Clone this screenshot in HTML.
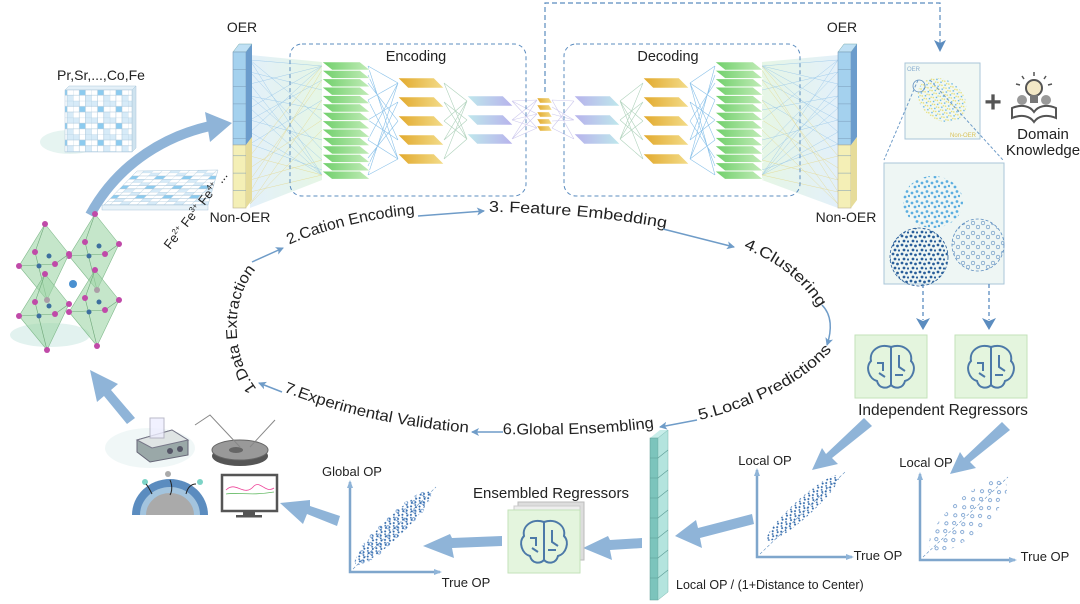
<!DOCTYPE html>
<html><head><meta charset="utf-8"><style>
html,body{margin:0;padding:0;background:#fff;}
svg{display:block;font-family:"Liberation Sans",sans-serif;}
</style></head><body>
<svg width="1080" height="604" viewBox="0 0 1080 604" xmlns="http://www.w3.org/2000/svg">
<defs>
<linearGradient id="gg" x1="0" x2="1"><stop offset="0" stop-color="#6fcf6a"/><stop offset="1" stop-color="#c2ecb8"/></linearGradient>
<linearGradient id="yg" x1="0" x2="1"><stop offset="0" stop-color="#e2a92c"/><stop offset="1" stop-color="#f3dc8a"/></linearGradient>
<linearGradient id="pg" x1="0" x2="1"><stop offset="0" stop-color="#bfe8ec"/><stop offset="1" stop-color="#b7b2ec"/></linearGradient>
<linearGradient id="pg2" x1="0" x2="1"><stop offset="0" stop-color="#b7b2ec"/><stop offset="1" stop-color="#bfe8ec"/></linearGradient>
<linearGradient id="fanL" x1="0" x2="1"><stop offset="0" stop-color="#8ec3ea"/><stop offset="1" stop-color="#9bdc98"/></linearGradient>
<linearGradient id="fanR" x1="0" x2="1"><stop offset="0" stop-color="#9bdc98"/><stop offset="1" stop-color="#8ec3ea"/></linearGradient>
<marker id="ah" markerWidth="8" markerHeight="8" refX="7" refY="4" orient="auto" markerUnits="userSpaceOnUse"><path d="M0,0 L8,4 L0,8 L2,4 Z" fill="#6f9cc8"/></marker>
<marker id="ahd" markerWidth="12" markerHeight="12" refX="10" refY="6" orient="auto" markerUnits="userSpaceOnUse"><path d="M0,0 L12,6 L0,12 L3,6 Z" fill="#5b8cbf"/></marker>
<marker id="ax" markerWidth="8" markerHeight="8" refX="6" refY="4" orient="auto-start-reverse" markerUnits="userSpaceOnUse"><path d="M0,1 L8,4 L0,7 Z" fill="#8fb4d8"/></marker>
<path id="pA" d="M262,395 C238,370 232,330 240,300 C250,265 275,250 300,240 C360,218 420,210 500,212 C580,214 650,222 720,240 C770,255 810,280 830,330"/>
<path id="pB" d="M280,390 C340,415 420,432 500,434 C580,436 640,432 700,420 C760,405 810,380 840,340"/>
<path id="gL" d="M0,0 L38,0 L48,8 L10,8Z" fill="url(#gg)" stroke="#fff" stroke-width=".6"/>
<path id="yL" d="M0,0 L36,0 L46,10 L10,10Z" fill="url(#yg)" stroke="#fff" stroke-width=".6"/>
<path id="pL" d="M0,0 L36,0 L46,10 L10,10Z" fill="url(#pg)" stroke="#fff" stroke-width=".6"/>
<path id="pL2" d="M0,0 L36,0 L46,10 L10,10Z" fill="url(#pg2)" stroke="#fff" stroke-width=".6"/>
<path id="cL" d="M0,0 L12,0 L15,5 L3,5Z" fill="url(#yg)" stroke="#fff" stroke-width=".4"/>
<g id="brain"><rect x="0" y="0" width="72" height="63" fill="#e4f5de" stroke="#c3e2b9"/>
<path d="M36,12 C24,8 14,16 16,26 C10,32 14,44 22,46 C24,54 32,54 36,50 C40,54 48,54 50,46 C58,44 62,32 56,26 C58,16 48,8 36,12 Z M36,12 L36,50 M22,28 L28,28 L28,36 M24,38 L30,42 M44,20 L44,32 L50,36 M40,40 L48,40" fill="none" stroke="#4c79a8" stroke-width="2"/></g>
<g id="oct">
<path d="M2,-38 L26,-8 L4,38 L-24,4Z" fill="#9fd6a6" fill-opacity=".6" stroke="#7fb98a" stroke-width=".6"/>
<path d="M2,-38 L-8,-10 L4,38 M-24,4 L12,2 L26,-8" fill="none" stroke="#6fa87a" stroke-width=".6"/>
<g fill="#c04aa8"><circle cx="2" cy="-38" r="3"/><circle cx="26" cy="-8" r="3"/><circle cx="4" cy="38" r="3"/><circle cx="-24" cy="4" r="3"/><circle cx="-8" cy="-10" r="3"/><circle cx="12" cy="2" r="3"/></g>
<circle cx="-4" cy="4" r="2.5" fill="#3d6f9e"/><circle cx="6" cy="-6" r="2.5" fill="#3d6f9e"/>
</g>
<pattern id="dLB" width="10" height="10" patternUnits="userSpaceOnUse"><circle cx="2" cy="3" r="1.4" fill="#5aaee0"/><circle cx="7" cy="1.5" r="1.4" fill="#5aaee0"/><circle cx="5" cy="7" r="1.4" fill="#5aaee0"/><circle cx="9" cy="6" r="1.2" fill="#5aaee0"/></pattern>
<pattern id="dDB" width="9" height="9" patternUnits="userSpaceOnUse"><circle cx="2" cy="2" r="1.4" fill="#2a5f9a"/><circle cx="6.5" cy="3" r="1.4" fill="#2a5f9a"/><circle cx="4" cy="7" r="1.4" fill="#2a5f9a"/><circle cx="8" cy="7.5" r="1.1" fill="#2a5f9a"/></pattern>
<pattern id="dH" width="10" height="10" patternUnits="userSpaceOnUse"><circle cx="3" cy="3" r="1.8" fill="none" stroke="#5b8cbf" stroke-width=".6"/><circle cx="8" cy="7" r="1.8" fill="none" stroke="#5b8cbf" stroke-width=".6"/></pattern>
<pattern id="dIn" width="5" height="5" patternUnits="userSpaceOnUse"><circle cx="1" cy="1" r=".8" fill="#5aaee0"/><circle cx="3.5" cy="3" r=".8" fill="#e5dc6a"/><circle cx="1.5" cy="4" r=".7" fill="#e5dc6a"/></pattern>
<pattern id="dS" width="6" height="6" patternUnits="userSpaceOnUse"><circle cx="1" cy="1" r="1" fill="#2a64a8"/><circle cx="4" cy="3" r="1" fill="#2a64a8"/><circle cx="2" cy="5" r=".9" fill="#2a64a8"/></pattern>
<pattern id="dSH" width="12" height="12" patternUnits="userSpaceOnUse"><circle cx="3" cy="3" r="1.6" fill="none" stroke="#4a80c0" stroke-width=".6"/><circle cx="9" cy="8" r="1.6" fill="none" stroke="#4a80c0" stroke-width=".6"/></pattern>
<pattern id="grid1" width="18.3" height="16.8" patternUnits="userSpaceOnUse">
<rect width="18.3" height="16.8" fill="#fff"/>
<rect x="0" y="0" width="6.1" height="5.6" fill="#d7ebf8"/><rect x="6.1" y="5.6" width="6.1" height="5.6" fill="#8ccbef"/><rect x="12.2" y="11.2" width="6.1" height="5.6" fill="#d7ebf8"/><rect x="12.2" y="0" width="6.1" height="5.6" fill="#d7ebf8"/>
<path d="M0,0 H18.3 M0,5.6 H18.3 M0,11.2 H18.3 M0,0 V16.8 M6.1,0 V16.8 M12.2,0 V16.8" stroke="#a9c6da" stroke-width=".5"/></pattern>
<pattern id="grid2" width="27" height="9.6" patternUnits="userSpaceOnUse" patternTransform="skewX(-45)">
<rect width="27" height="9.6" fill="#fff"/>
<rect x="0" y="0" width="9" height="3.2" fill="#d7ebf8"/><rect x="9" y="3.2" width="9" height="3.2" fill="#8ccbef"/><rect x="18" y="6.4" width="9" height="3.2" fill="#d7ebf8"/>
<path d="M0,0 H27 M0,3.2 H27 M0,6.4 H27 M0,0 V9.6 M9,0 V9.6 M18,0 V9.6" stroke="#a9c6da" stroke-width=".5"/></pattern>
</defs>

<!-- fans -->
<path d="M250,55 L322,62 L322,180 L250,208Z" fill="url(#fanL)" opacity=".25"/>
<path d="M838,55 L762,62 L762,180 L838,208Z" fill="url(#fanR)" opacity=".25"/>
<g stroke-width=".45" opacity=".7" fill="none">
<path stroke="#7fb8e6" d="M250,60L322,66M250,60L322,120M250,60L322,175M250,72L322,90M250,72L322,150M250,84L322,66M250,84L322,175M250,96L322,110M250,96L322,160M250,108L322,66M250,108L322,175M250,120L322,80M250,120L322,140M250,132L322,66M250,132L322,175M250,144L322,100M250,144L322,170"/>
<path stroke="#e3cf70" d="M250,156L322,66M250,156L322,175M250,168L322,120M250,180L322,80M250,180L322,160M250,192L322,70M250,192L322,175M250,204L322,130M250,204L322,100"/>
<path stroke="#7fb8e6" d="M838,60L762,66M838,60L762,120M838,60L762,175M838,72L762,90M838,72L762,150M838,84L762,66M838,84L762,175M838,96L762,110M838,96L762,160M838,108L762,66M838,108L762,175M838,120L762,80M838,120L762,140M838,132L762,66M838,132L762,175M838,144L762,100M838,144L762,170"/>
<path stroke="#e3cf70" d="M838,156L762,66M838,156L762,175M838,168L762,120M838,180L762,80M838,180L762,160M838,192L762,70M838,192L762,175M838,204L762,130M838,204L762,100"/>
<path stroke="#5aa8e0" stroke-width=".6" d="M368,66L398,83M368,66L398,159M368,83L398,121M368,100L398,83M368,100L398,159M368,120L398,102M368,120L398,140M368,140L398,83M368,140L398,159M368,158L398,121M368,175L398,83M368,175L398,159M368,75L398,140M368,166L398,102"/>
<path stroke="#5aa8e0" stroke-width=".6" d="M715,66L690,83M715,66L690,159M715,83L690,121M715,100L690,83M715,100L690,159M715,120L690,102M715,120L690,140M715,140L690,83M715,140L690,159M715,158L690,121M715,175L690,83M715,175L690,159M715,75L690,140M715,166L690,102"/>
<path stroke="#8fc0a0" stroke-width=".6" d="M444,83L467,101M444,83L467,139M444,102L467,120M444,121L467,101M444,121L467,139M444,140L467,120M444,159L467,101M444,159L467,139M444,102L467,139M444,140L467,101"/>
<path stroke="#8fc0a0" stroke-width=".6" d="M643,83L620,101M643,83L620,139M643,102L620,120M643,121L620,101M643,121L620,139M643,140L620,120M643,159L620,101M643,159L620,139M643,102L620,139M643,140L620,101"/>
<path stroke="#b8b2e6" stroke-width=".6" d="M512,101L537,100M512,101L537,128M512,120L537,114M512,139L537,100M512,139L537,128M512,101L537,114M512,139L537,114M512,120L537,100M512,120L537,128"/>
<path stroke="#b8b2e6" stroke-width=".6" d="M552,100L574,101M552,128L574,101M552,114L574,120M552,100L574,139M552,128L574,139M552,107L574,120M552,121L574,120"/>
</g>

<!-- dashed top connector -->
<path d="M545,92 L545,3 L940,3 L940,50" fill="none" stroke="#5b8cbf" stroke-width="1.2" stroke-dasharray="5,3" marker-end="url(#ahd)"/>

<rect x="290" y="44" width="236" height="152" rx="12" fill="none" stroke="#5b8cbf" stroke-dasharray="4,3"/>
<rect x="564" y="44" width="236" height="152" rx="12" fill="none" stroke="#5b8cbf" stroke-dasharray="4,3"/>
<text x="416" y="61" font-size="14.5" text-anchor="middle" fill="#222">Encoding</text>
<text x="668" y="61" font-size="14.5" text-anchor="middle" fill="#222">Decoding</text>

<!-- layers -->
<g>
<use href="#gL" x="322" y="62"/><use href="#gL" x="322" y="70.4"/><use href="#gL" x="322" y="78.8"/><use href="#gL" x="322" y="87.2"/><use href="#gL" x="322" y="95.6"/><use href="#gL" x="322" y="104"/><use href="#gL" x="322" y="112.4"/><use href="#gL" x="322" y="120.8"/><use href="#gL" x="322" y="129.2"/><use href="#gL" x="322" y="137.6"/><use href="#gL" x="322" y="146"/><use href="#gL" x="322" y="154.4"/><use href="#gL" x="322" y="162.8"/><use href="#gL" x="322" y="171.2"/>
<use href="#gL" x="715" y="62"/><use href="#gL" x="715" y="70.4"/><use href="#gL" x="715" y="78.8"/><use href="#gL" x="715" y="87.2"/><use href="#gL" x="715" y="95.6"/><use href="#gL" x="715" y="104"/><use href="#gL" x="715" y="112.4"/><use href="#gL" x="715" y="120.8"/><use href="#gL" x="715" y="129.2"/><use href="#gL" x="715" y="137.6"/><use href="#gL" x="715" y="146"/><use href="#gL" x="715" y="154.4"/><use href="#gL" x="715" y="162.8"/><use href="#gL" x="715" y="171.2"/>
<use href="#yL" x="398" y="78"/><use href="#yL" x="398" y="97"/><use href="#yL" x="398" y="116"/><use href="#yL" x="398" y="135"/><use href="#yL" x="398" y="154"/>
<use href="#yL" x="643" y="78"/><use href="#yL" x="643" y="97"/><use href="#yL" x="643" y="116"/><use href="#yL" x="643" y="135"/><use href="#yL" x="643" y="154"/>
<use href="#pL" x="467" y="96"/><use href="#pL" x="467" y="115"/><use href="#pL" x="467" y="134"/>
<use href="#pL2" x="574" y="96"/><use href="#pL2" x="574" y="115"/><use href="#pL2" x="574" y="134"/>
<use href="#cL" x="537" y="98"/><use href="#cL" x="537" y="105"/><use href="#cL" x="537" y="112"/><use href="#cL" x="537" y="119"/><use href="#cL" x="537" y="126"/>
</g>

<!-- columns -->
<g>
<path d="M233,52 L246,52 L252,44 L239,44Z" fill="#bfe0f4" stroke="#7aa" stroke-width=".5"/>
<rect x="233" y="52" width="13" height="93" fill="#a4d1ee" stroke="#7a9ab8" stroke-width=".6"/>
<rect x="233" y="145" width="13" height="63" fill="#f4efb6" stroke="#b8b090" stroke-width=".6"/>
<path d="M246,52 L252,44 L252,137 L246,145Z" fill="#6b9ccc"/>
<path d="M246,145 L252,137 L252,200 L246,208Z" fill="#e6dc9a"/>
<path d="M233,69.3H246M233,86.6H246M233,103.9H246M233,121.2H246M233,138.5H246M233,155.8H246M233,173.1H246M233,190.4H246" stroke="#7a9ab8" stroke-width=".5"/>
<path d="M838,52 L851,52 L857,44 L844,44Z" fill="#bfe0f4" stroke="#7aa" stroke-width=".5"/>
<rect x="838" y="52" width="13" height="93" fill="#a4d1ee" stroke="#7a9ab8" stroke-width=".6"/>
<rect x="838" y="145" width="13" height="63" fill="#f4efb6" stroke="#b8b090" stroke-width=".6"/>
<path d="M851,52 L857,44 L857,137 L851,145Z" fill="#6b9ccc"/>
<path d="M851,145 L857,137 L857,200 L851,208Z" fill="#e6dc9a"/>
<path d="M838,69.3H851M838,86.6H851M838,103.9H851M838,121.2H851M838,138.5H851M838,155.8H851M838,173.1H851M838,190.4H851" stroke="#7a9ab8" stroke-width=".5"/>
</g>
<text x="242" y="32" font-size="14" text-anchor="middle" fill="#222">OER</text>
<text x="240" y="222" font-size="14" text-anchor="middle" fill="#222">Non-OER</text>
<text x="842" y="32" font-size="14" text-anchor="middle" fill="#222">OER</text>
<text x="846" y="222" font-size="14" text-anchor="middle" fill="#222">Non-OER</text>

<!-- grids -->
<text x="101" y="80" font-size="14" text-anchor="middle" fill="#222">Pr,Sr,...,Co,Fe</text>
<ellipse cx="70" cy="142" rx="30" ry="12" fill="#d6ece8" opacity=".6"/>
<path d="M132,90 L136,86 L136,148 L132,152Z" fill="#cfe3ef" stroke="#a9c6da" stroke-width=".5"/>
<path d="M65,90 L69,86 L136,86 L132,90Z" fill="#e4f0f8" stroke="#a9c6da" stroke-width=".5"/>
<rect x="65" y="90" width="67" height="62" fill="url(#grid1)" stroke="#a9c6da" stroke-width=".5"/>
<path d="M102,207 L137,171 L218,170 L208,205Z" fill="url(#grid2)" stroke="#a9c6da" stroke-width=".5"/>
<rect x="102" y="205" width="106" height="5" fill="#e8f2f8" stroke="#a9c6da" stroke-width=".5"/>
<text transform="translate(170,250) rotate(-52)" font-size="13" fill="#222">Fe<tspan font-size="8" dy="-5">2+</tspan><tspan dy="5"> Fe</tspan><tspan font-size="8" dy="-5">3+</tspan><tspan dy="5"> Fe</tspan><tspan font-size="8" dy="-5">4+</tspan><tspan dy="5"> ...</tspan></text>
<path d="M90,215 C120,160 170,135 210,126" fill="none" stroke="#8fb4d8" stroke-width="10"/>
<path d="M205,112 L232,123 L210,142 Z" fill="#8fb4d8"/>

<!-- crystal -->
<ellipse cx="50" cy="335" rx="40" ry="12" fill="#d6ece8" opacity=".7"/>
<use href="#oct" x="93" y="252"/><use href="#oct" x="43" y="262"/><use href="#oct" x="93" y="308"/><use href="#oct" x="43" y="312"/>
<circle cx="73" cy="284" r="4" fill="#4a90d0"/>

<!-- cycle text -->
<g font-size="15.5" fill="#222">
<text><textPath href="#pA" startOffset="8" textLength="128" lengthAdjust="spacingAndGlyphs">1.Data Extraction</textPath></text>
<text><textPath href="#pA" startOffset="178" textLength="130" lengthAdjust="spacingAndGlyphs">2.Cation Encoding</textPath></text>
<text><textPath href="#pA" startOffset="382" textLength="178" lengthAdjust="spacingAndGlyphs">3. Feature Embedding</textPath></text>
<text><textPath href="#pA" startOffset="640" textLength="98" lengthAdjust="spacingAndGlyphs">4.Clustering</textPath></text>
<text><textPath href="#pB" startOffset="4" textLength="190" lengthAdjust="spacingAndGlyphs">7.Experimental Validation</textPath></text>
<text><textPath href="#pB" startOffset="228" textLength="152" lengthAdjust="spacingAndGlyphs">6.Global Ensembling</textPath></text>
<text><textPath href="#pB" startOffset="426" textLength="152" lengthAdjust="spacingAndGlyphs">5.Local Predictions</textPath></text>
</g>
<g stroke="#6f9cc8" stroke-width="1.5" fill="none" marker-end="url(#ah)">
<path d="M252,262 L283,248"/>
<path d="M418,216 L484,211"/>
<path d="M663,229 L734,247"/>
<path d="M822,305 C832,315 832,330 827,345"/>
<path d="M697,420 L660,427"/>
<path d="M503,432 L472,432"/>
<path d="M282,392 L259,383"/>
</g>

<!-- right top -->
<rect x="905" y="63" width="75" height="76" fill="#f1f8f4" stroke="#a9c6d8"/>
<ellipse cx="942" cy="100" rx="26" ry="20" fill="url(#dIn)" transform="rotate(35 942 100)"/>
<text x="907" y="71" font-size="6" fill="#8aaed0">OER</text>
<text x="950" y="137" font-size="6" fill="#d9c25a">Non-OER</text>
<circle cx="919" cy="86" r="6" fill="none" stroke="#5b8cbf" stroke-width=".8"/>
<line x1="918" y1="80" x2="884" y2="160" stroke="#6f9cc8" stroke-dasharray="3,2"/>
<line x1="930" y1="80" x2="1003" y2="160" stroke="#6f9cc8" stroke-dasharray="3,2"/>
<text x="993" y="112" font-size="30" font-weight="bold" text-anchor="middle" fill="#555">+</text>
<g transform="translate(1010,70)">
<path d="M2,38 C12,34 20,36 24,42 C28,36 36,34 46,38 L46,48 C36,44 28,46 24,52 C20,46 12,44 2,48 Z" fill="#fff" stroke="#555" stroke-width="2"/>
<circle cx="24" cy="18" r="8" fill="#f3e8c6" stroke="#555" stroke-width="2"/>
<rect x="20" y="25" width="8" height="8" fill="#777"/>
<circle cx="12" cy="30" r="5" fill="#999"/><circle cx="36" cy="30" r="5" fill="#999"/>
<path d="M24,2 L24,6 M12,6 L14,9 M36,6 L34,9 M6,14 L10,15 M42,14 L38,15" stroke="#555" stroke-width="1.5"/>
</g>
<text x="1043" y="139" font-size="15" text-anchor="middle" fill="#222">Domain</text>
<text x="1043" y="155" font-size="15" text-anchor="middle" fill="#222">Knowledge</text>

<rect x="884" y="163" width="120" height="121" fill="#eef6f4" stroke="#a9c6d8"/>
<ellipse cx="933" cy="202" rx="30" ry="26" fill="url(#dLB)"/>
<circle cx="919" cy="257" r="29" fill="url(#dDB)"/>
<circle cx="919" cy="257" r="29" fill="none" stroke="#2a5f9a" stroke-dasharray="3,2" stroke-width=".8"/>
<circle cx="978" cy="245" r="26" fill="url(#dH)"/>
<circle cx="978" cy="245" r="26" fill="none" stroke="#5b8cbf" stroke-dasharray="3,2" stroke-width=".8"/>
<g stroke="#5b8cbf" stroke-width="1.3" fill="none" stroke-dasharray="4,3">
<line x1="923" y1="284" x2="923" y2="320"/><line x1="989" y1="284" x2="989" y2="320"/></g>
<path d="M916,318 L923,330 L930,318 L923,321Z M982,318 L989,330 L996,318 L989,321Z" fill="#5b8cbf"/>

<use href="#brain" x="855" y="335"/>
<use href="#brain" x="955" y="335"/>
<text x="943" y="415" font-size="15.5" text-anchor="middle" fill="#222">Independent Regressors</text>

<g fill="#8fb4d8">
<path d="M864,418 L872,426 L832,458 L838,464 L812,470 L822,448 L826,454 Z"/>
<path d="M1002,422 L1010,430 L970,462 L976,468 L950,474 L960,452 L964,458 Z"/>
<path d="M752,514 L754,524 L700,538 L702,548 L675,536 L696,520 L698,528 Z"/>
<path d="M642,538 L642,548 L610,550 L612,560 L583,548 L608,536 L610,540 Z"/>
<path d="M502,536 L502,546 L452,548 L454,558 L423,546 L450,534 L452,538 Z"/>
<path d="M340,516 L337,526 L307,514 L303,524 L280,503 L310,500 L310,506 Z"/>
<path d="M135,418 L127,424 L104,396 L97,402 L90,370 L118,384 L111,390 Z"/>
</g>

<!-- plots -->
<g fill="none" stroke="#7fa6cc" stroke-width="2.5">
<path d="M757,470 L757,557 L852,557" marker-start="url(#ax)" marker-end="url(#ax)"/>
<path d="M920,474 L920,560 L1015,560" marker-start="url(#ax)" marker-end="url(#ax)"/>
<path d="M350,482 L350,572 L440,572" marker-start="url(#ax)" marker-end="url(#ax)"/>
</g>
<g stroke="#5b8cbf" stroke-width=".6" stroke-dasharray="3,2">
<line x1="760" y1="554" x2="845" y2="472"/><line x1="923" y1="557" x2="1008" y2="477"/><line x1="353" y1="569" x2="436" y2="487"/>
</g>
<ellipse cx="0" cy="0" rx="48" ry="9" fill="url(#dS)" transform="translate(803,508) rotate(-42)"/>
<ellipse cx="0" cy="0" rx="50" ry="18" fill="url(#dSH)" transform="translate(968,516) rotate(-42)"/>
<ellipse cx="0" cy="0" rx="52" ry="10" fill="url(#dS)" transform="translate(393,528) rotate(-44)"/>
<ellipse cx="0" cy="0" rx="52" ry="12" fill="url(#dSH)" transform="translate(393,528) rotate(-44)"/>
<text x="765" y="465" font-size="13" text-anchor="middle" fill="#222">Local OP</text>
<text x="878" y="560" font-size="13" text-anchor="middle" fill="#222">True OP</text>
<text x="926" y="467" font-size="13" text-anchor="middle" fill="#222">Local OP</text>
<text x="1045" y="561" font-size="13" text-anchor="middle" fill="#222">True OP</text>
<text x="352" y="476" font-size="13" text-anchor="middle" fill="#222">Global OP</text>
<text x="466" y="587" font-size="13" text-anchor="middle" fill="#222">True OP</text>
<text x="676" y="589" font-size="12.5" fill="#222">Local OP / (1+Distance to Center)</text>
<text x="551" y="498" font-size="15" text-anchor="middle" fill="#222">Ensembled Regressors</text>

<!-- cyan bar -->
<path d="M650,438 L660,430 L668,430 L658,438Z" fill="#c8eeea"/>
<rect x="650" y="438" width="8" height="162" fill="#7cc4bc" stroke="#5a9a94" stroke-width=".5"/>
<path d="M658,438 L668,430 L668,592 L658,600Z" fill="#b4e4de" stroke="#7ab8b0" stroke-width=".5"/>
<path d="M650,458 L658,458 L668,450 M650,478 L658,478 L668,470 M650,498 L658,498 L668,490 M650,518 L658,518 L668,510 M650,538 L658,538 L668,530 M650,558 L658,558 L668,550 M650,578 L658,578 L668,570" stroke="#5a9a94" stroke-width=".6" fill="none"/>

<rect x="518" y="502" width="66" height="58" fill="#ddd" stroke="#bbb"/>
<rect x="514" y="506" width="66" height="58" fill="#eee" stroke="#ccc"/>
<use href="#brain" x="508" y="510"/>

<!-- lab -->
<ellipse cx="150" cy="448" rx="45" ry="20" fill="#e6f2f1" opacity=".6"/>
<path d="M137,440 L172,430 L188,440 L188,455 L150,462 L137,452 Z" fill="#9aa8a8" stroke="#667"/>
<path d="M137,440 L172,430 L188,440 L152,448 Z" fill="#dfe4e4" stroke="#778"/>
<rect x="150" y="418" width="14" height="20" fill="#eef" stroke="#aab" opacity=".8"/>
<circle cx="170" cy="451" r="3" fill="#556"/><circle cx="180" cy="449" r="3" fill="#556"/>
<ellipse cx="240" cy="456" rx="28" ry="10" fill="#555"/>
<ellipse cx="240" cy="450" rx="28" ry="10" fill="#999" stroke="#666"/>
<ellipse cx="236" cy="450" rx="7" ry="3" fill="#666"/>
<path d="M195,425 L210,415 L240,447 M250,447 L275,420" stroke="#888" fill="none"/>
<path d="M132,515 A38,36 0 0 1 208,515 Z" fill="#5b8cbf"/>
<path d="M140,515 A30,28 0 0 1 200,515 Z" fill="#a3c4de"/>
<path d="M146,515 A24,22 0 0 1 194,515 Z" fill="#aaa"/>
<circle cx="145" cy="482" r="3" fill="#7cd3c6"/><circle cx="168" cy="474" r="3" fill="#aaa"/><circle cx="200" cy="482" r="3" fill="#7cd3c6"/>
<path d="M152,494 C148,486 146,484 146,484 M170,495 C174,488 170,480 170,480 M186,494 C188,486 192,484 196,484" stroke="#222" fill="none"/>
<rect x="222" y="475" width="55" height="36" fill="#fff" stroke="#555" stroke-width="2.5"/>
<path d="M226,490 C236,480 244,498 254,486 C260,480 266,494 274,488" stroke="#e49" fill="none" stroke-width=".8"/>
<path d="M226,494 C240,492 250,496 274,492" stroke="#6b6" fill="none" stroke-width=".8"/>
<rect x="243" y="511" width="12" height="5" fill="#555"/><rect x="236" y="515" width="26" height="2.5" fill="#555"/>
</svg>
</body></html>
